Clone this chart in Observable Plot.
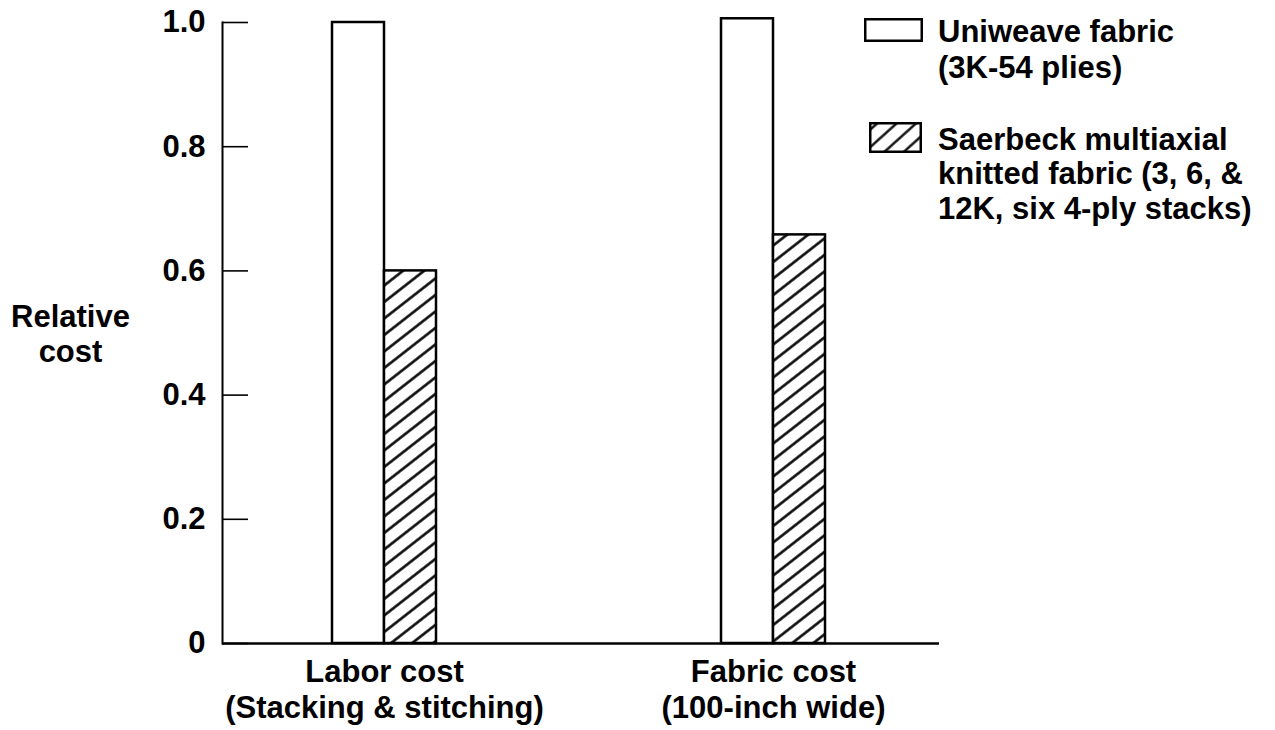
<!DOCTYPE html>
<html>
<head>
<meta charset="utf-8">
<script src="https://cdn.jsdelivr.net/npm/d3@7"></script>
<script src="https://cdn.jsdelivr.net/npm/@observablehq/plot@0.6"></script>
<style>
  body { margin: 0; background: #fff; }
  #wrap { position: relative; width: 1275px; height: 730px; overflow: hidden; }
  .leg { position: absolute; font-family: "Liberation Sans", Arial, Helvetica, sans-serif; font-weight: bold; font-size: 31px; color: #000; white-space: nowrap; }
  .sw { position: absolute; }
</style>
</head>
<body>
<div id="wrap"></div>
<script>
// ---- data ----
const groups = ["Labor cost", "Fabric cost"];
const groupSubtitles = ["(Stacking & stitching)", "(100-inch wide)"];
const uniweaveValues = [1.0, 1.006];
const saerbeckValues = [0.6, 0.658];
const yTicks = [0, 0.2, 0.4, 0.6, 0.8, 1.0];
const yTickLabels = ["0", "0.2", "0.4", "0.6", "0.8", "1.0"];
const yLabel = ["Relative", "cost"];
const legendUniweave = ["Uniweave fabric", "(3K-54 plies)"];
const legendSaerbeck = ["Saerbeck multiaxial", "knitted fabric (3, 6, &", "12K, six 4-ply stacks)"];

const rows = groups.map((g, i) => ({
  group: g, sub: groupSubtitles[i], uni: uniweaveValues[i], sae: saerbeckValues[i]
}));

const W = 1275, H = 730, mL = 222, mR = 336, mT = 22, mB = 87;
const frameW = W - mL - mR;
const font = '"Liberation Sans", Arial, Helvetica, sans-serif';

const chart = Plot.plot({
  width: W, height: H,
  marginLeft: mL, marginRight: mR, marginTop: mT, marginBottom: mB,
  style: { fontFamily: font, fontSize: "31px", fontWeight: "bold", color: "#000", background: "#fff", overflow: "visible" },
  x: { domain: groups, range: [332, 826], paddingInner: 0.732, paddingOuter: 0, axis: null },
  y: { domain: [0, 1], axis: null },
  marks: [
    Plot.barY(rows, { x: "group", y: "uni", fill: "white", stroke: "black", strokeWidth: 2.5, insetRight: 52 }),
    Plot.barY(rows, { x: "group", y: "sae", fill: "url(#hatch)", stroke: "black", strokeWidth: 2.5, insetLeft: 52 }),
    Plot.ruleY([0], { stroke: "black", strokeWidth: 2.5 }),
    Plot.frame({ anchor: "left", stroke: "black", strokeWidth: 2 }),
    Plot.tickY(yTicks, { y: d => d, insetRight: frameW - 26, stroke: "black", strokeWidth: 1.6 }),
    Plot.axisY(yTicks, { tickSize: 0, tickPadding: 17, label: null, fontSize: 31, tickFormat: d => yTickLabels[yTicks.indexOf(d)] }),
    Plot.text(rows, { x: "group", y: 0, text: d => d.group + "\n" + d.sub, lineAnchor: "top", dy: 13, lineHeight: 1.16, fontSize: 31, fill: "black" }),
    Plot.text([yLabel.join("\n")], { frameAnchor: "left", dx: -152, text: d => d, textAnchor: "middle", lineHeight: 1.13, fontSize: 31, fill: "black" })
  ]
});

// hatch pattern
const svgNS = "http://www.w3.org/2000/svg";
const defs = document.createElementNS(svgNS, "defs");
defs.innerHTML = '<pattern id="hatch" patternUnits="userSpaceOnUse" width="8" height="13" patternTransform="rotate(-38)"><rect width="8" height="13" fill="white"/><line x1="0" y1="6.5" x2="8" y2="6.5" stroke="black" stroke-width="2.5"/></pattern>';
chart.insertBefore(defs, chart.firstChild);

const wrap = document.getElementById("wrap");
chart.style.position = "absolute";
chart.style.left = "0px";
chart.style.top = "0px";
wrap.appendChild(chart);

// legend
function swatch(left, top, w, h, fill) {
  const d = document.createElement("div");
  d.className = "sw";
  d.style.left = left + "px"; d.style.top = top + "px";
  d.innerHTML = `<svg width="${w}" height="${h}" style="display:block">
    <defs><pattern id="hatchL" patternUnits="userSpaceOnUse" width="8" height="13" patternTransform="rotate(-42)"><rect width="8" height="13" fill="white"/><line x1="0" y1="6.5" x2="8" y2="6.5" stroke="black" stroke-width="2.3"/></pattern></defs>
    <rect x="1.25" y="1.25" width="${w - 2.5}" height="${h - 2.5}" fill="${fill}" stroke="black" stroke-width="2.5"/></svg>`;
  wrap.appendChild(d);
}
function legText(left, top, lh, lines) {
  const d = document.createElement("div");
  d.className = "leg";
  d.style.left = left + "px"; d.style.top = top + "px"; d.style.lineHeight = lh + "px";
  d.innerHTML = lines.map(l => l.replace(/&/g, "&amp;")).join("<br>");
  wrap.appendChild(d);
}
swatch(864, 18, 59, 24, "white");
swatch(869, 122, 53, 31, "url(#hatchL)");
legText(938, 13.5, 36, legendUniweave);
legText(938, 122.5, 34.5, legendSaerbeck);
</script>
</body>
</html>
